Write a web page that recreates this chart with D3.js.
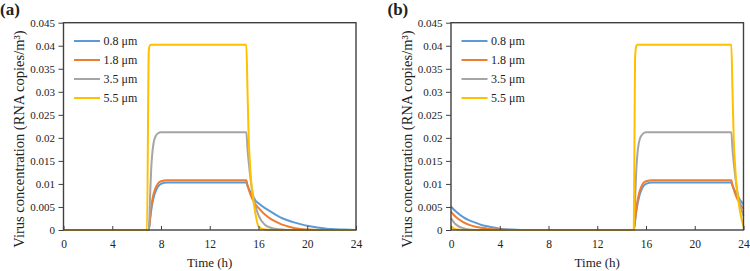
<!DOCTYPE html>
<html lang="en">
<head>
  <meta charset="UTF-8">
  <title>Virus concentration</title>
  <script src="https://d3js.org/d3.v7.min.js"></script>
  <style>
    body { margin: 0; background: #fff; }
    text { font-family: "Liberation Serif", "Times New Roman", serif; fill: #222; }
  </style>
</head>
<body>
<script>
  // Series names and colours
  const sizes = ["0.8 μm", "1.8 μm", "3.5 μm", "5.5 μm"];
  const colors = ["#5B9BD5", "#ED7D31", "#A5A5A5", "#FFC000"];

  // Axis ticks
  const xTicks = [0, 4, 8, 12, 16, 20, 24];
  const yTicks = [0, 0.005, 0.01, 0.015, 0.02, 0.025, 0.03, 0.035, 0.04, 0.045];
  const yTickLabels = ["0", "0.005", "0.01", "0.015", "0.02", "0.025", "0.03", "0.035", "0.04", "0.045"];

  // Panel (a) - occupancy 7h to 15h
  const timeA = [0, 6.85, 7.0, 7.1, 7.2, 7.3, 7.4, 7.5, 7.75, 8, 8.5, 10, 12, 14, 15,
    15.1, 15.2, 15.3, 15.4, 15.5, 15.75, 16, 16.5, 17, 17.5, 18, 18.5, 19, 20, 21, 22, 23, 24];
  const blueA = [0, 0, 0, 0.0022, 0.0043, 0.0059, 0.0071, 0.008, 0.0094, 0.01, 0.0103, 0.0103, 0.0103, 0.0103, 0.0103,
    0.0096, 0.009, 0.0084, 0.0079, 0.0075, 0.0064, 0.0058, 0.0048, 0.004, 0.0032, 0.0025, 0.002, 0.0016, 0.0009, 0.0005, 0.0002, 0.0001, 0];
  const orangeA = [0, 0, 0, 0.0026, 0.005, 0.0067, 0.0079, 0.0088, 0.0101, 0.0106, 0.0108, 0.0108, 0.0108, 0.0108, 0.0108,
    0.0097, 0.0088, 0.008, 0.0073, 0.0067, 0.0056, 0.0048, 0.0034, 0.0024, 0.0017, 0.0011, 0.0007, 0.0004, 0.0001, 0, 0, 0, 0];
  const grayA = [0, 0, 0, 0.007, 0.0135, 0.017, 0.019, 0.02, 0.021, 0.0212, 0.0212, 0.0212, 0.0212, 0.0212, 0.0212,
    0.0175, 0.0146, 0.0121, 0.01, 0.0083, 0.0052, 0.0032, 0.0012, 0.0005, 0.0002, 0.0001, 0, 0, 0, 0, 0, 0, 0];
  const yellowA = [0, 0, 0.039, 0.0401, 0.0402, 0.0402, 0.0402, 0.0402, 0.0402, 0.0402, 0.0402, 0.0402, 0.0402, 0.0402, 0.0402,
    0.03, 0.0195, 0.0145, 0.0105, 0.008, 0.0035, 0.0008, 0.0001, 0, 0, 0, 0, 0, 0, 0, 0, 0, 0];

  // Panel (b) - occupancy 15h to 23h
  const timeB = [0, 0.25, 0.5, 1, 1.5, 2, 2.5, 3, 4, 5, 6, 8, 12, 14.9, 15.0,
    15.1, 15.2, 15.3, 15.4, 15.5, 15.75, 16, 16.5, 18, 20, 22, 23,
    23.1, 23.2, 23.3, 23.4, 23.5, 23.75, 24];
  const blueB = [0.0051, 0.0044, 0.0038, 0.0028, 0.0021, 0.0016, 0.0011, 0.0008, 0.0003, 0.0001, 0, 0, 0, 0, 0,
    0.0018, 0.004, 0.0056, 0.0068, 0.0078, 0.0094, 0.01, 0.0103, 0.0103, 0.0103, 0.0103, 0.0103,
    0.0096, 0.009, 0.0084, 0.0079, 0.0075, 0.0064, 0.0056];
  const orangeB = [0.004, 0.0032, 0.0026, 0.0017, 0.0011, 0.0007, 0.0005, 0.0003, 0.0001, 0, 0, 0, 0, 0, 0,
    0.0021, 0.0046, 0.0063, 0.0076, 0.0086, 0.0101, 0.0106, 0.0108, 0.0108, 0.0108, 0.0108, 0.0108,
    0.0097, 0.0088, 0.008, 0.0073, 0.0067, 0.0056, 0.0046];
  const grayB = [0.0026, 0.0016, 0.001, 0.0004, 0.0001, 0, 0, 0, 0, 0, 0, 0, 0, 0, 0,
    0.006, 0.0128, 0.0166, 0.0187, 0.0198, 0.0209, 0.0212, 0.0212, 0.0212, 0.0212, 0.0212, 0.0212,
    0.0175, 0.0146, 0.0121, 0.01, 0.0083, 0.0052, 0.003];
  const yellowB = [0.0008, 0.0003, 0.0001, 0, 0, 0, 0, 0, 0, 0, 0, 0, 0, 0, 0,
    0.037, 0.0399, 0.0402, 0.0402, 0.0402, 0.0402, 0.0402, 0.0402, 0.0402, 0.0402, 0.0402, 0.0402,
    0.03, 0.0195, 0.0145, 0.0105, 0.008, 0.0035, 0.0008];

  const svg = d3.select("body")
    .append("svg")
    .attr("width", 750)
    .attr("height", 271);

  function drawPanel(left, label, time, series) {
    const plotW = 292.5;
    const top = 22.7;
    const bottom = 230;
    const off = left - 63.5;

    const x = d3.scaleLinear().domain([0, 24]).range([left, left + plotW]);
    const y = d3.scaleLinear().domain([0, 0.045]).range([bottom, top]);

    // panel label
    svg.append("text")
      .attr("x", off)
      .attr("y", 15)
      .style("font-size", "17px")
      .style("font-weight", "bold")
      .text(label);

    // lines (drawn first so the frame sits on top)
    const line = d3.line()
      .x(d => x(d[0]))
      .y(d => y(d[1]))
      .curve(d3.curveMonotoneX);

    series.forEach((s, i) => {
      svg.append("path")
        .datum(time.map((t, j) => [t, s[j]]))
        .attr("fill", "none")
        .attr("stroke", colors[i])
        .attr("stroke-width", 2)
        .attr("stroke-linejoin", "round")
        .attr("d", line);
    });

    // plot frame
    svg.append("rect")
      .attr("x", left)
      .attr("y", top)
      .attr("width", plotW)
      .attr("height", bottom - top)
      .attr("fill", "none")
      .attr("stroke", "#404040")
      .attr("stroke-width", 1.4);

    // bottom axis, ticks pointing inside
    const xAxis = svg.append("g")
      .attr("transform", `translate(0,${bottom})`)
      .call(d3.axisBottom(x).tickValues(xTicks).tickSizeInner(-4).tickSizeOuter(0).tickPadding(10));
    xAxis.select(".domain").remove();
    xAxis.selectAll("line").attr("stroke", "#404040");
    xAxis.selectAll("text").style("font-size", "11.5px").attr("fill", "#222")
      .style("font-family", '"Liberation Serif", serif');

    // left axis
    const yAxis = svg.append("g")
      .attr("transform", `translate(${left},0)`)
      .call(d3.axisLeft(y).tickValues(yTicks).tickFormat((d, i) => yTickLabels[i]).tickSizeInner(5).tickSizeOuter(0).tickPadding(3.5));
    yAxis.select(".domain").remove();
    yAxis.selectAll("line").attr("stroke", "#404040");
    yAxis.selectAll("text").style("font-size", "11px").attr("fill", "#222")
      .style("font-family", '"Liberation Serif", serif');

    // axis titles
    svg.append("text")
      .attr("x", x(12))
      .attr("y", 267)
      .attr("text-anchor", "middle")
      .style("font-size", "13px")
      .text("Time (h)");

    svg.append("text")
      .attr("transform", `translate(${off + 19},139) rotate(-90)`)
      .attr("text-anchor", "middle")
      .attr("dominant-baseline", "central")
      .style("font-size", "14.5px")
      .text("Virus concentration (RNA copies/m³)");

    // legend
    sizes.forEach((name, i) => {
      const ly = 41 + i * 19;
      svg.append("line")
        .attr("x1", off + 74).attr("x2", off + 100)
        .attr("y1", ly).attr("y2", ly)
        .attr("stroke", colors[i])
        .attr("stroke-width", 2);
      svg.append("text")
        .attr("x", off + 103.5)
        .attr("y", ly + 4)
        .style("font-size", "12px")
        .text(name);
    });
  }

  drawPanel(63.5, "(a)", timeA, [blueA, orangeA, grayA, yellowA]);
  drawPanel(451, "(b)", timeB, [blueB, orangeB, grayB, yellowB]);
</script>
</body>
</html>
